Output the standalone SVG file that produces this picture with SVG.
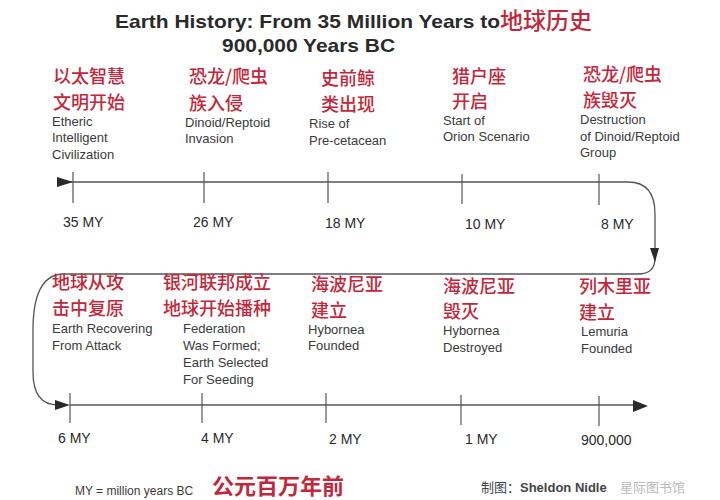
<svg xmlns="http://www.w3.org/2000/svg" width="720" height="500" viewBox="0 0 720 500">
<style>
.en{font-family:"Liberation Sans",Arial,sans-serif;font-size:13px;fill:#3a3a3a}
.my{font-family:"Liberation Sans",Arial,sans-serif;font-size:14px;fill:#2a2a2a}
.zh{font-family:"Noto Sans CJK SC","Noto Sans",sans-serif;font-size:18px;fill:#c0283c;font-weight:500}
.ttl{font-family:"Liberation Sans",Arial,sans-serif;font-size:19px;font-weight:bold;fill:#2a2a2a}
.ln{fill:none;stroke:#555;stroke-width:1.3}
.tk{stroke:#555;stroke-width:1.2}
.ah{fill:#2a2a2a}
</style>
<rect width="720" height="500" fill="#ffffff"/>
<g id="title">
<text class="ttl" x="115" y="28" textLength="385" lengthAdjust="spacingAndGlyphs">Earth History: From 35 Million Years to</text>
<text class="zh" x="500" y="29" style="font-size:23px">地球历史</text>
<text class="ttl" x="222" y="52" textLength="173" lengthAdjust="spacingAndGlyphs">900,000 Years BC</text>
</g>
<g id="connectors">
<path class="ln" d="M60,182 H628 Q655,182 655,214 V250"/>
<path class="ln" d="M655,258 Q655,274 638,274 H62 Q33,276 33,330 V372 Q33,405 58,405"/>
<path class="ln" d="M70,405 H640"/>
<polygon class="ah" points="57,177 73,182 57,187"/>
<polygon class="ah" points="650,248 659,248 655,262"/>
<polygon class="ah" points="55,400 70,405 55,410"/>
<polygon class="ah" points="633,400 648,406 633,412"/>
</g>
<g id="e35">
<line class="tk" x1="73" y1="172" x2="73" y2="203"/>
<text class="zh" x="53" y="83">以太智慧</text>
<text class="zh" x="53" y="109">文明开始</text>
<text class="en" x="52" y="126">Etheric</text>
<text class="en" x="52" y="142">Intelligent</text>
<text class="en" x="52" y="159">Civilization</text>
<text class="my" x="63" y="227">35 MY</text>
</g>
<g id="e26">
<line class="tk" x1="204" y1="172" x2="204" y2="203"/>
<text class="zh" x="189" y="83">恐龙/爬虫</text>
<text class="zh" x="189" y="110">族入侵</text>
<text class="en" x="185" y="127">Dinoid/Reptoid</text>
<text class="en" x="185" y="143">Invasion</text>
<text class="my" x="193" y="227">26 MY</text>
</g>
<g id="e18">
<line class="tk" x1="328" y1="172" x2="328" y2="203"/>
<text class="zh" x="321" y="85">史前鲸</text>
<text class="zh" x="321" y="111">类出现</text>
<text class="en" x="309" y="128">Rise of</text>
<text class="en" x="309" y="145">Pre-cetacean</text>
<text class="my" x="325" y="228">18 MY</text>
</g>
<g id="e10">
<line class="tk" x1="462" y1="174" x2="462" y2="204"/>
<text class="zh" x="452" y="83">猎户座</text>
<text class="zh" x="452" y="108">开启</text>
<text class="en" x="443" y="125">Start of</text>
<text class="en" x="443" y="141">Orion Scenario</text>
<text class="my" x="465" y="229">10 MY</text>
</g>
<g id="e8">
<line class="tk" x1="599" y1="174" x2="599" y2="205"/>
<text class="zh" x="583" y="81">恐龙/爬虫</text>
<text class="zh" x="583" y="107">族毁灭</text>
<text class="en" x="580" y="124">Destruction</text>
<text class="en" x="580" y="141">of Dinoid/Reptoid</text>
<text class="en" x="580" y="157">Group</text>
<text class="my" x="601" y="229">8 MY</text>
</g>
<g id="e6">
<line class="tk" x1="70" y1="393" x2="70" y2="423"/>
<text class="zh" x="52" y="289">地球从攻</text>
<text class="zh" x="52" y="315">击中复原</text>
<text class="en" x="52" y="333">Earth Recovering</text>
<text class="en" x="52" y="350">From Attack</text>
<text class="my" x="58" y="443">6 MY</text>
</g>
<g id="e4">
<line class="tk" x1="202" y1="393" x2="202" y2="423"/>
<text class="zh" x="163" y="289">银河联邦成立</text>
<text class="zh" x="163" y="315">地球开始播种</text>
<text class="en" x="183" y="333">Federation</text>
<text class="en" x="183" y="350">Was Formed;</text>
<text class="en" x="183" y="367">Earth Selected</text>
<text class="en" x="183" y="384">For Seeding</text>
<text class="my" x="201" y="443">4 MY</text>
</g>
<g id="e2">
<line class="tk" x1="326" y1="393" x2="326" y2="423"/>
<text class="zh" x="311" y="291">海波尼亚</text>
<text class="zh" x="311" y="317">建立</text>
<text class="en" x="308" y="334">Hybornea</text>
<text class="en" x="308" y="350">Founded</text>
<text class="my" x="329" y="444">2 MY</text>
</g>
<g id="e1">
<line class="tk" x1="461" y1="395" x2="461" y2="425"/>
<text class="zh" x="443" y="293">海波尼亚</text>
<text class="zh" x="443" y="318">毁灭</text>
<text class="en" x="443" y="335">Hybornea</text>
<text class="en" x="443" y="352">Destroyed</text>
<text class="my" x="465" y="444">1 MY</text>
</g>
<g id="e09">
<line class="tk" x1="599" y1="396" x2="599" y2="426"/>
<text class="zh" x="579" y="293">列木里亚</text>
<text class="zh" x="579" y="319">建立</text>
<text class="en" x="581" y="336">Lemuria</text>
<text class="en" x="581" y="353">Founded</text>
<text class="my" x="581" y="445">900,000</text>
</g>
<g id="footer">
<text class="en" x="75" y="495" style="font-size:12px">MY = million years BC</text>
<text class="zh" x="212" y="494" style="font-size:22px;font-weight:bold">公元百万年前</text>
<text x="481" y="492" style="font-family:'Noto Sans CJK SC',sans-serif;font-size:13px;fill:#444">制图：</text>
<text x="520" y="492" style="font-family:'Liberation Sans',Arial,sans-serif;font-size:13px;font-weight:bold;fill:#444">Sheldon Nidle</text>
<text x="620" y="492" style="font-family:'Noto Sans CJK SC',sans-serif;font-size:13px;fill:#bbb">星际图书馆</text>
</g>
</svg>
